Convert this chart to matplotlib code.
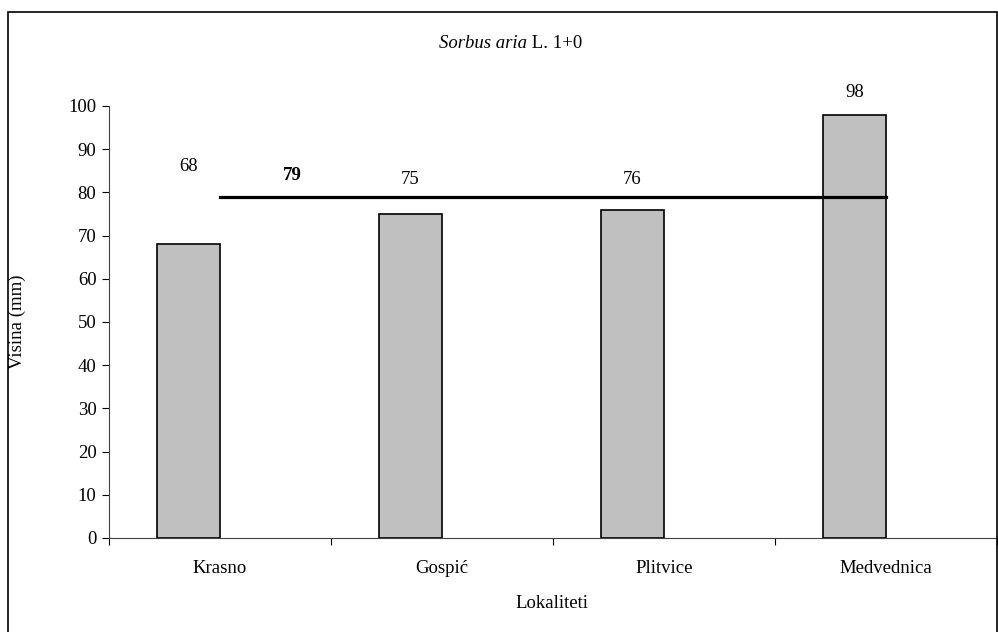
import matplotlib.pyplot as plt
from matplotlib.patches import Rectangle

# podaci
lokaliteti = ['Krasno', 'Gospić', 'Plitvice', 'Medvednica']
visina = [68, 75, 76, 98]
prosjek = 79

# polozaj oznaka (y u jedinicama osi) - kao u originalu
oznake_y = [85.9, 82.9, 82.9, 103.2]

plt.rcParams['font.family'] = ['Liberation Serif', 'DejaVu Serif']
fs = 13.5

fig = plt.figure(figsize=(9.98, 6.32), dpi=100)
ax = fig.add_axes([109 / 998, 1 - 538 / 632, (997 - 109) / 998, 432 / 632])

x = list(range(len(lokaliteti)))
ax.bar(x, visina, width=-0.285, align='edge', color='#c0c0c0',
       edgecolor='black', linewidth=1.2, zorder=2)

# vrijednosti iznad stupaca
for i, v in enumerate(visina):
    ax.text(i - 0.1425, oznake_y[i], str(v), ha='center', va='center', fontsize=fs)

# prosjek
ax.plot([x[0], x[-1]], [prosjek, prosjek], color='black', linewidth=2.3, zorder=3)
ax.text(0.325, 84, str(prosjek), ha='center', va='center',
        fontsize=fs, fontweight='bold')

ax.set_xlim(-0.5, 3.5)
ax.set_ylim(0, 100)
ax.set_yticks(range(0, 101, 10))
ax.set_xticks([i + 0.5 for i in range(-1, 4)], minor=False)
ax.set_xticklabels([])
ax.set_xticks(x, minor=True)
ax.set_xticklabels(lokaliteti, minor=True)
ax.tick_params(axis='x', which='minor', length=0, pad=16, labelsize=fs)
ax.tick_params(axis='x', which='major', length=5, width=0.8, direction='out')
ax.tick_params(axis='y', length=5, width=0.8, labelsize=fs, pad=4)

for s in ['top', 'right']:
    ax.spines[s].set_visible(False)
ax.spines['left'].set_color('#404040')
ax.spines['bottom'].set_color('#404040')

fig.text(527 / 998, 1 - 43 / 632, 'Sorbus aria', fontsize=fs, fontstyle='italic',
         ha='right', va='center')
fig.text(527 / 998, 1 - 43 / 632, ' L. 1+0', fontsize=fs, ha='left', va='center')
fig.text(17 / 998, 1 - 322 / 632, 'Visina (mm)', rotation=90, fontsize=fs,
         ha='center', va='center')
fig.text(552 / 998, 1 - 604 / 632, 'Lokaliteti', fontsize=fs, ha='center', va='center')

# okvir
fig.patches.append(Rectangle((8 / 998, -0.1), (997 - 8) / 998, 1.1 - 12 / 632,
                             transform=fig.transFigure, fill=False,
                             edgecolor='black', linewidth=1.2))

fig.savefig('out.png', dpi=100)
